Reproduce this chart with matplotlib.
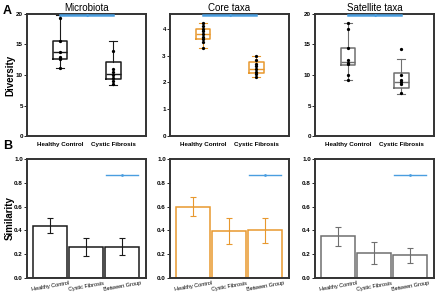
import matplotlib.pyplot as plt
import numpy as np

plt.rcParams["font.family"] = "Liberation Sans"

groups = ["Healthy Control", "Cystic Fibrosis"]
bar_groups = ["Healthy Control", "Cystic Fibrosis", "Between Group"]
titles = ["Microbiota", "Core taxa", "Satellite taxa"]
colors = ["#1a1a1a", "#e8982e", "#6f6f6f"]

# box stats: (whislo, q1, med, q3, whishi)
micro_stats = [(11.1, 12.7, 13.8, 15.6, 19.8), (8.4, 9.3, 10.2, 12.1, 15.5)]
micro_pts = [[19.3, 15.5, 13.8, 13.0, 12.7, 11.2], [14.0, 11.0, 10.5, 10.0, 9.5, 9.0, 8.5]]
core_stats = [(3.3, 3.62, 3.8, 4.0, 4.2), (2.2, 2.35, 2.5, 2.75, 3.0)]
core_pts = [[4.2, 4.1, 4.0, 3.9, 3.8, 3.7, 3.6, 3.5, 3.3], [3.0, 2.85, 2.7, 2.6, 2.5, 2.4, 2.3, 2.2]]
sat_stats = [(9.2, 11.6, 12.2, 14.5, 18.5), (6.9, 7.8, 8.8, 10.3, 12.7)]
sat_pts = [[18.5, 17.5, 14.4, 12.5, 12.0, 11.8, 10.0, 9.2], [14.2, 10.0, 9.2, 8.8, 8.5, 7.0]]
ylims_a = [20, 4.55, 20]
yticks_a = [[0, 5, 10, 15, 20], [0, 1, 2, 3, 4], [0, 5, 10, 15, 20]]

sim_means = [[0.44, 0.26, 0.262], [0.60, 0.395, 0.40], [0.35, 0.21, 0.19]]
sim_errs = [[0.065, 0.075, 0.07], [0.08, 0.11, 0.105], [0.08, 0.09, 0.065]]

all_stats = [micro_stats, core_stats, sat_stats]
all_pts = [micro_pts, core_pts, sat_pts]

fig = plt.figure(figsize=(4.4, 2.93), dpi=100)
W, H = 440, 293
lefts = [27, 170, 315]
aw = 119
blue = "#4a9ee0"

for i in range(3):
    ax = fig.add_axes([lefts[i] / W, 1 - 136 / H, aw / W, 122 / H])
    c = colors[i]
    bxp = []
    for s in all_stats[i]:
        bxp.append(dict(whislo=s[0], q1=s[1], med=s[2], q3=s[3], whishi=s[4], fliers=[]))
    ax.bxp(bxp, positions=[1, 2], widths=0.28, showfliers=False,
           boxprops=dict(color=c, lw=1.1), medianprops=dict(color=c, lw=1.0),
           whiskerprops=dict(color=c, lw=0.8), capprops=dict(color=c, lw=0.8))
    for j, pts in enumerate(all_pts[i]):
        ax.scatter(np.full(len(pts), j + 1.0), pts, s=1.8, color="black", zorder=3)
    top = ylims_a[i] * 0.995
    ax.plot([1, 1.47], [top, top], color=blue, lw=1.8, clip_on=False, zorder=6)
    ax.plot([1.53, 2], [top, top], color=blue, lw=1.8, clip_on=False, zorder=6)
    ax.plot([1.5], [top], marker="o", ms=1.2, color=blue, clip_on=False, zorder=6)
    ax.set_xlim(0.38, 2.62)
    ax.set_ylim(0, ylims_a[i])
    ax.set_yticks(yticks_a[i])
    ax.set_xticks([1, 2])
    ax.set_xticklabels(groups, fontsize=4.5, fontweight="bold")
    ax.tick_params(axis="y", labelsize=4.5, length=2, width=0.6, pad=1)
    ax.tick_params(axis="x", length=0, pad=4)
    for t in ax.get_yticklabels():
        t.set_fontweight("bold")
    for sp in ax.spines.values():
        sp.set_linewidth(1.4)
        sp.set_color("#333333")
    ax.set_title(titles[i], fontsize=7, pad=2)
    if i == 0:
        ax.set_ylabel("Diversity", fontsize=7, fontweight="bold")
        ax.yaxis.set_label_coords(-0.1, 0.5)

    bx = fig.add_axes([lefts[i] / W, 1 - 278 / H, aw / W, 119 / H])
    x = np.arange(3)
    bx.bar(x, sim_means[i], width=0.93, facecolor="white", edgecolor=c, lw=1.1)
    bx.errorbar(x, sim_means[i], yerr=sim_errs[i], fmt="none", ecolor=c,
                elinewidth=0.8, capsize=2, capthick=0.8)
    bx.plot([1.55, 1.98], [0.865, 0.865], color=blue, lw=1.0)
    bx.plot([2.02, 2.45], [0.865, 0.865], color=blue, lw=1.0)
    bx.plot([2.0], [0.865], marker="o", ms=1.0, color=blue)
    bx.set_xlim(-0.64, 2.66)
    bx.set_ylim(0, 1.0)
    bx.set_yticks([0, 0.2, 0.4, 0.6, 0.8, 1.0])
    bx.set_yticklabels(["0.0", "0.2", "0.4", "0.6", "0.8", "1.0"])
    bx.set_xticks(x)
    bx.set_xticklabels(bar_groups, fontsize=4, rotation=10)
    bx.tick_params(axis="y", labelsize=4.5, length=2, width=0.6, pad=1)
    bx.tick_params(axis="x", length=0, pad=2)
    for t in bx.get_yticklabels():
        t.set_fontweight("bold")
    for sp in bx.spines.values():
        sp.set_linewidth(1.4)
        sp.set_color("#333333")
    if i == 0:
        bx.set_ylabel("Similarity", fontsize=7, fontweight="bold")
        bx.yaxis.set_label_coords(-0.1, 0.5)

fig.text(3 / W, 1 - 11 / H, "A", fontsize=9, fontweight="bold", va="center")
fig.text(3 / W, 1 - 146 / H, "B", fontsize=9, fontweight="bold", va="center")

plt.savefig("out.png", dpi=100)
plt.close()
